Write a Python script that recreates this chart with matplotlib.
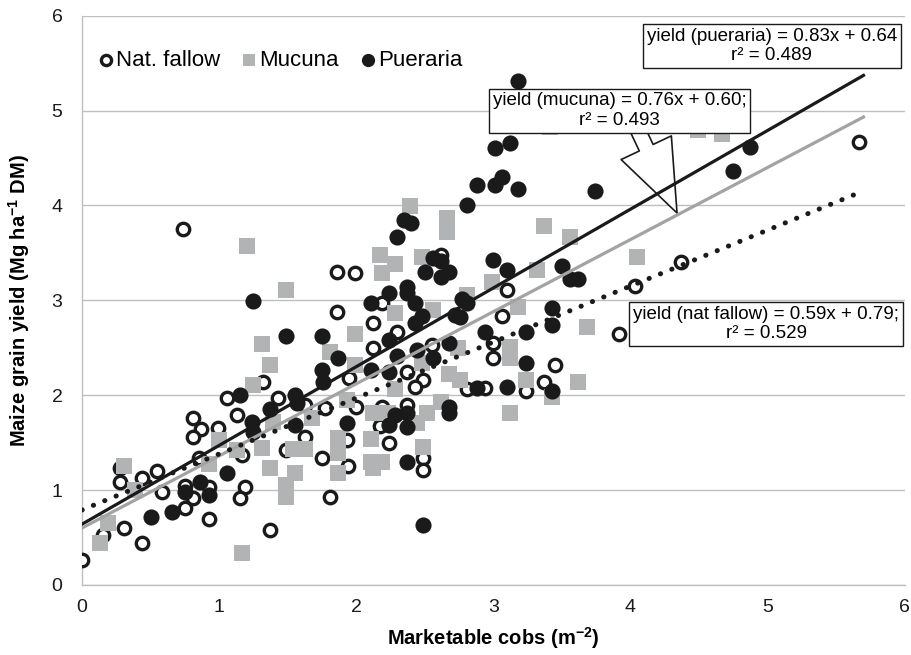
import numpy as np
import matplotlib
matplotlib.use("Agg")
import matplotlib.pyplot as plt

plt.rcParams["font.family"] = ["Liberation Sans", "DejaVu Sans"]

# Nat. fallow (open circles)
fallow_x = [0.00, 0.15, 0.31, 0.44, 0.93, 0.75, 0.81, 0.87, 0.81, 0.99, 1.13, 1.06,
            1.17, 1.19, 1.15, 0.28, 0.28, 0.44, 0.55, 0.58, 0.75, 0.81, 0.93, 0.85,
            0.74, 1.86, 1.99, 1.86, 2.12, 2.12, 2.19, 2.30, 1.32, 1.43, 1.95, 1.63,
            1.77, 2.19, 2.00, 1.75, 1.49, 1.63, 1.93, 1.94, 1.81, 1.37, 2.24, 2.17,
            2.62, 3.10, 3.06, 2.55, 3.00, 3.00, 2.37, 2.49, 2.43, 2.81, 2.94, 3.24,
            2.37, 2.49, 2.49, 4.37, 4.03, 3.92, 3.45, 3.37, 5.67]
fallow_y = [0.26, 0.53, 0.60, 0.44, 0.70, 0.81, 1.76, 1.64, 1.56, 1.65, 1.79, 1.97,
            1.37, 1.03, 0.92, 1.23, 1.09, 1.13, 1.20, 0.98, 1.04, 0.92, 1.03, 1.34,
            3.75, 3.30, 3.29, 2.88, 2.76, 2.50, 2.97, 2.67, 2.14, 1.97, 2.18, 1.90,
            1.87, 1.88, 1.88, 1.34, 1.42, 1.56, 1.53, 1.25, 0.93, 0.58, 1.50, 1.67,
            3.48, 3.11, 2.83, 2.53, 2.55, 2.39, 2.24, 2.16, 2.09, 2.06, 2.08, 2.04,
            1.90, 1.34, 1.21, 3.40, 3.15, 2.64, 2.32, 2.14, 4.67]

# Mucuna (grey squares)
mucuna_x = [0.13, 0.19, 0.31, 0.39, 1.00, 0.93, 1.13, 1.17, 1.20,
            2.17, 2.28, 2.19, 1.49, 2.28, 1.99, 1.31, 1.37, 1.81, 1.25, 1.99, 2.28,
            2.12, 1.93, 2.23, 1.68, 1.39, 1.31, 1.54, 1.63, 1.87, 1.87, 1.37, 1.55,
            1.49, 1.49, 1.87, 2.11, 2.11, 2.19, 2.12, 2.39, 2.66, 2.66, 3.37, 2.48,
            2.99, 2.56, 2.81, 3.18, 2.74, 3.12, 3.12, 2.48, 2.68, 2.76, 3.24, 2.62,
            2.52, 2.44, 3.12, 2.49, 3.41, 3.56, 4.05, 3.68, 3.62, 3.43, 3.32, 4.49, 4.67]
mucuna_y = [0.44, 0.65, 1.25, 1.00, 1.53, 1.27, 1.42, 0.34, 3.57,
            3.48, 3.38, 3.29, 3.11, 2.87, 2.65, 2.54, 2.32, 2.45, 2.11, 2.32, 2.06,
            1.81, 1.95, 1.81, 1.76, 1.72, 1.44, 1.43, 1.43, 1.55, 1.39, 1.23, 1.18,
            1.05, 0.93, 1.18, 1.54, 1.30, 1.30, 1.23, 3.99, 3.87, 3.72, 3.78, 3.46,
            3.19, 2.90, 3.06, 2.93, 2.50, 2.51, 2.39, 2.34, 2.22, 2.16, 2.16, 1.93,
            1.81, 1.71, 1.81, 1.45, 4.83, 3.67, 3.46, 2.72, 2.14, 1.98, 3.32, 4.80, 4.75]

# Pueraria (black dots)
pueraria_x = [0.50, 0.66, 0.75, 0.86, 0.93, 1.06,
              1.25, 1.49, 1.75, 1.87, 1.75, 1.76, 2.11, 2.24, 2.24, 2.30, 2.11, 2.24,
              1.15, 1.55, 1.57, 1.37, 1.24, 1.55, 1.93, 2.24, 2.30, 2.28, 1.25,
              2.81, 2.35, 2.40, 2.56, 2.62, 2.50, 2.62, 2.68, 3.00, 3.10, 2.37, 2.37,
              2.43, 2.77, 2.81, 2.48, 2.72, 2.76, 2.43, 2.44, 2.68, 2.94, 3.24, 2.56,
              2.88, 3.10, 3.24, 2.68, 2.68, 2.37, 2.37, 2.37, 2.49,
              3.18, 3.01, 3.12, 2.88, 3.01, 3.06, 3.18, 3.74,
              3.50, 3.56, 3.62, 3.43, 3.43, 3.43, 4.87, 4.75]
pueraria_y = [0.72, 0.77, 0.98, 1.09, 0.95, 1.18,
              2.99, 2.62, 2.62, 2.39, 2.27, 2.14, 2.97, 3.08, 2.58, 2.41, 2.27, 2.24,
              2.00, 2.00, 1.92, 1.85, 1.72, 1.69, 1.71, 1.69, 3.67, 1.79, 1.61,
              4.01, 3.85, 3.82, 3.45, 3.41, 3.30, 3.25, 3.30, 3.43, 3.32, 3.14, 3.08,
              2.97, 3.01, 2.97, 2.83, 2.85, 2.82, 2.76, 2.48, 2.55, 2.67, 2.67, 2.39,
              2.08, 2.09, 2.34, 1.88, 1.81, 1.81, 1.66, 1.30, 0.63,
              5.31, 4.61, 4.66, 4.22, 4.22, 4.30, 4.17, 4.15,
              3.36, 3.22, 3.22, 2.92, 2.74, 2.04, 4.62, 4.36]

# regression lines (slope, intercept)
fit_pueraria = (0.83, 0.64)
fit_mucuna = (0.76, 0.60)
fit_fallow = (0.59, 0.79)
x_fit_end = 5.7

fig = plt.figure(figsize=(9.11, 6.55), dpi=100)
ax = fig.add_axes([0.09, 0.107, 0.903, 0.869])

ax.scatter(fallow_x, fallow_y, s=80, marker="o", facecolors="white",
           edgecolors="#1a1a1a", linewidths=2.4, zorder=3, label="Nat. fallow")
ax.scatter(mucuna_x, mucuna_y, s=117, marker="s", color="#b1b3b5",
           linewidths=0, zorder=3, label="Mucuna")
ax.scatter(pueraria_x, pueraria_y, s=135, marker="o", color="#1a1a1a",
           linewidths=0, zorder=3, label="Pueraria")

xl = np.array([0, x_fit_end])
ax.plot(xl, fit_pueraria[0] * xl + fit_pueraria[1], color="#1a1a1a", lw=2.3, zorder=5)
ax.plot(xl, fit_mucuna[0] * xl + fit_mucuna[1], color="#a3a3a3", lw=2.3, zorder=5)
ax.plot(xl, fit_fallow[0] * xl + fit_fallow[1], color="#1a1a1a", lw=3.6,
        linestyle=(0, (0.05, 2.4)), dash_capstyle="round", zorder=5)

box = dict(boxstyle="square,pad=0.2", fc="white", ec="#1a1a1a", lw=1)
ax.text(5.03, 5.68, "yield (pueraria) = 0.83x + 0.64\nr² = 0.489", ha="center",
        va="center", fontsize=13.5, bbox=box, zorder=7, linespacing=1.2)
ax.text(3.92, 5.0, "yield (mucuna) = 0.76x + 0.60;\nr² = 0.493", ha="center",
        va="center", fontsize=13.5, bbox=box, zorder=7, linespacing=1.2)
ax.text(4.99, 2.75, "yield (nat fallow) = 0.59x + 0.79;\nr² = 0.529", ha="center",
        va="center", fontsize=13.5, bbox=box, zorder=7, linespacing=1.2)

# hollow block arrow from mucuna box to its line
ax.annotate("", xy=(4.34, 3.92), xytext=(4.03, 4.87), xycoords="data",
            arrowprops=dict(arrowstyle="simple,head_length=5.2,head_width=4.0,tail_width=1.1",
                            mutation_scale=10, fc="white", ec="#1a1a1a", lw=1.2,
                            shrinkA=0, shrinkB=0),
            zorder=4)

ax.set_xlim(0, 6)
ax.set_ylim(0, 6)
ax.set_xticks(range(7))
ax.set_yticks(range(7))
ax.tick_params(length=0, labelsize=14, colors="#1a1a1a")
ax.tick_params(axis="x", pad=10)
ax.tick_params(axis="y", pad=14)
ax.grid(axis="y", color="#bfbfbf", lw=1)
ax.set_axisbelow(True)
for s in ["top", "right"]:
    ax.spines[s].set_visible(False)
for s in ["left", "bottom"]:
    ax.spines[s].set_color("#bfbfbf")
    ax.spines[s].set_linewidth(1)

ax.set_xlabel("Marketable cobs (m$^{\\mathregular{-2}}$)", fontsize=14.5,
              fontweight="bold", labelpad=7)
ax.set_ylabel("Maize grain yield (Mg ha$^{\\mathregular{-1}}$ DM)", fontsize=14.5,
              fontweight="bold", labelpad=14)

ax.legend(loc="center left", bbox_to_anchor=(0.008, 0.921), ncol=3, frameon=False,
          fontsize=16, handlelength=0.6, handletextpad=0.15, columnspacing=1.0,
          markerscale=0.82, borderaxespad=0.3, borderpad=0.2)

fig.savefig("out.png", dpi=100)
